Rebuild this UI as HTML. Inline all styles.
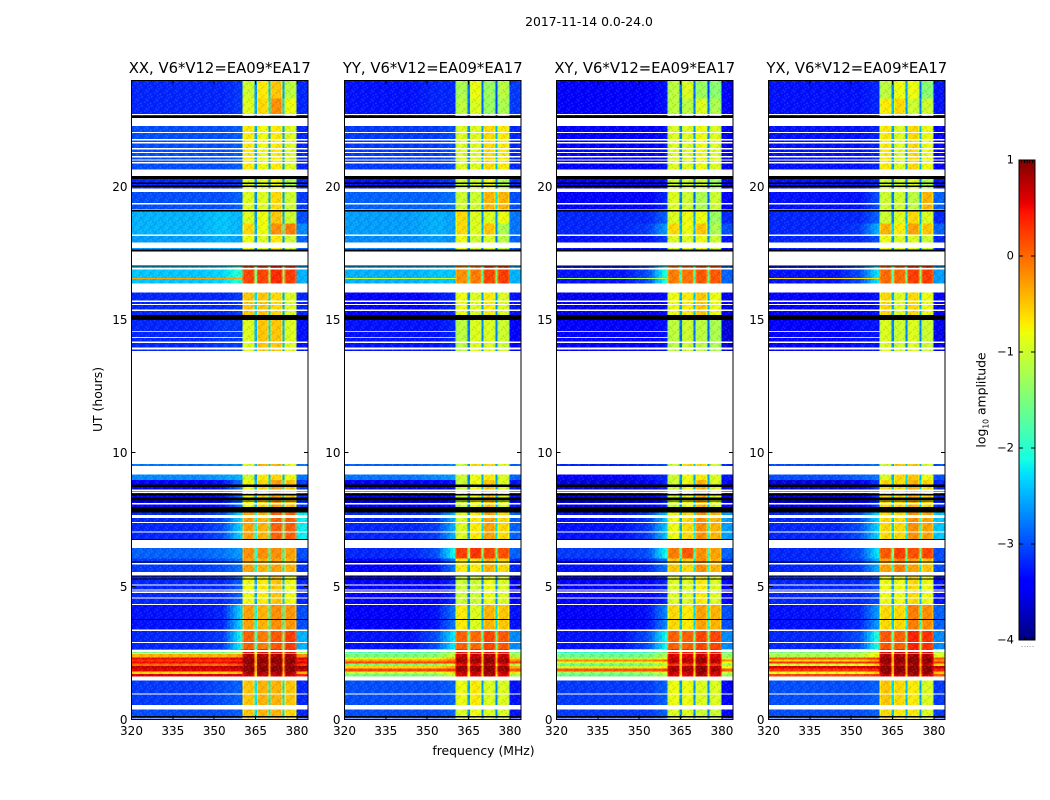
<!DOCTYPE html>
<html>
<head>
<meta charset="utf-8">
<title>2017-11-14 0.0-24.0</title>
<style>
html,body{margin:0;padding:0;background:#fff;}
svg{display:block;font-family:"DejaVu Sans","Liberation Sans",sans-serif;fill:#000;}
</style>
</head>
<body>
<svg id="figure" width="1050" height="800" viewBox="0 0 1050 800" xmlns="http://www.w3.org/2000/svg">
  <defs>
    <pattern id="speckle" width="9.8" height="9.1" patternUnits="userSpaceOnUse">
      <rect x="0" y="0" width="1.4" height="1.3" fill="#fff" opacity=".16"/>
      <rect x="4.2" y="0" width="1.4" height="1.3" fill="#000" opacity=".14"/>
      <rect x="7" y="1.3" width="1.4" height="1.3" fill="#fff" opacity=".13"/>
      <rect x="1.4" y="1.3" width="1.4" height="1.3" fill="#000" opacity=".16"/>
      <rect x="5.6" y="2.6" width="1.4" height="1.3" fill="#000" opacity=".12"/>
      <rect x="2.8" y="2.6" width="1.4" height="1.3" fill="#fff" opacity=".17"/>
      <rect x="8.4" y="3.9" width="1.4" height="1.3" fill="#000" opacity=".15"/>
      <rect x="0" y="3.9" width="1.4" height="1.3" fill="#fff" opacity=".12"/>
      <rect x="4.2" y="5.2" width="1.4" height="1.3" fill="#fff" opacity=".15"/>
      <rect x="7" y="5.2" width="1.4" height="1.3" fill="#000" opacity=".13"/>
      <rect x="1.4" y="6.5" width="1.4" height="1.3" fill="#fff" opacity=".12"/>
      <rect x="2.8" y="7.8" width="1.4" height="1.3" fill="#000" opacity=".16"/>
      <rect x="8.4" y="7.8" width="1.4" height="1.3" fill="#fff" opacity=".14"/>
      <rect x="5.6" y="6.5" width="1.4" height="1.3" fill="#000" opacity=".1"/>
    </pattern>
  </defs>
  <text x="589" y="26" font-size="12.4" text-anchor="middle">2017-11-14 0.0-24.0</text>
  <text transform="translate(102,399.5) rotate(-90)" font-size="12.4" text-anchor="middle">UT (hours)</text>
  <text x="483.5" y="755" font-size="12.4" text-anchor="middle">frequency (MHz)</text>
  <text transform="translate(985.5,400) rotate(-90)" font-size="12.4" text-anchor="middle">log<tspan font-size="7.6" dy="3">10</tspan><tspan dy="-3"> amplitude</tspan></text>
  <g id="panels"></g>
  <g id="colorbar"></g>
</svg>
<script>
// ---- chart data ----
const panelTitles = ["XX, V6*V12=EA09*EA17", "YY, V6*V12=EA09*EA17", "XY, V6*V12=EA09*EA17", "YX, V6*V12=EA09*EA17"];
const freqTicks = [320, 335, 350, 365, 380];
const hourTicks = [0, 5, 10, 15, 20];
const colorTicks = [1, 0, -1, -2, -3, -4];
// frequency anchors (MHz) for low, mid and ramp levels
const lowEdges = [345, 354, 360.3];
const subbandStart = [360.3, 365.5, 370.4, 375.5];
const subbandEnd = [364.6, 369.7, 374.7, 379.8];
const highEdges = [379.8, 384];
// time rows (UT hours)
const rowStart = [24.00,23.33,22.30,20.41,19.82,19.12,18.63,18.16,17.01,16.03,15.19,9.60,9.20,8.99,7.77,6.44,6.05,5.41,4.30,3.32,2.65,2.53,2.46,2.33,2.26,2.18,2.11,2.01,1.91,1.81,1.71,1.46,0.38];
const rowEnd   = [23.33,22.67,20.66,19.94,19.16,18.63,18.22,17.66,16.38,15.19,13.84,9.52,8.99,7.77,6.78,6.05,5.54,4.34,3.38,2.65,2.61,2.48,2.33,2.26,2.18,2.11,2.01,1.91,1.81,1.71,1.61,0.48,0.00];
// log10 amplitude per row: low, mid, ramp, sb1, sb2, sb3, sb4, high
const valuesXX = [
[-3.2,-3.2,-3.1,-1.0,-0.7,-0.5,-1.1,-3.2],[-3.2,-3.2,-3.1,-0.9,-0.6,-0.2,-0.8,-3.2],[-3.0,-3.0,-2.9,-0.7,-0.8,-0.7,-0.9,-3.2],[-3.2,-3.2,-3.1,-0.9,-0.9,-0.8,-1.2,-3.2],
[-3.0,-3.0,-2.9,-0.9,-0.9,-0.6,-1.0,-3.1],[-2.5,-2.4,-2.5,-0.9,-0.8,-0.5,-1.0,-3.0],[-2.5,-2.4,-2.5,-0.6,-0.8,-0.2,-0.1,-2.7],[-2.6,-2.5,-2.6,-0.8,-0.9,-0.7,-1.0,-2.9],
[-2.4,-2.3,-2.0,0.2,0.2,0.35,0.25,-2.5],[-3.2,-3.2,-3.1,-0.5,-0.5,-0.6,-0.9,-3.2],[-3.2,-3.1,-3.1,-0.9,-0.5,-0.5,-0.9,-3.3],[-2.8,-2.7,-2.6,-0.9,-0.4,-0.4,-0.8,-2.8],
[-2.7,-2.6,-2.5,-1.0,-0.7,-0.6,-0.8,-2.8],[-3.4,-3.3,-2.8,-0.8,-0.6,-0.3,-0.5,-3.1],[-3.2,-3.0,-2.3,-0.3,-0.4,0.05,0.05,-2.2],[-2.9,-2.8,-2.6,-0.2,-0.2,-0.2,-0.3,-3.0],
[-3.1,-3.0,-2.8,-0.3,-0.4,-0.3,-0.4,-3.1],[-3.2,-3.2,-2.9,-0.8,-0.7,-0.5,-0.8,-3.2],[-3.3,-3.2,-2.3,-0.3,-0.4,-0.2,-0.25,-3.0],[-3.2,-3.1,-2.1,0.05,-0.1,0.1,0.25,-2.5],
[0.1,0.1,-0.2,0.3,0.3,0.3,0.3,-0.5],[-1.5,-1.5,-1.2,0.5,0.5,0.5,0.5,-1.3],[-0.4,-0.4,-0.3,0.8,0.8,0.8,0.8,-0.2],[0.5,0.5,0.6,0.9,0.9,0.9,0.9,0.6],
[0.3,0.3,0.4,0.95,0.95,0.95,0.95,0.4],[0.5,0.5,0.6,0.95,0.95,0.95,0.95,0.6],[0.0,0.0,0.2,0.8,0.8,0.8,0.8,0.3],[0.7,0.7,0.8,0.95,0.95,0.95,0.95,0.9],
[0.55,0.55,0.6,0.95,0.95,0.95,0.95,0.7],[-0.6,-0.6,-0.4,0.8,0.8,0.8,0.8,-0.4],[0.6,0.6,0.6,0.7,0.7,0.7,0.7,0.4],[-3.1,-3.0,-2.9,-0.5,-0.4,-0.4,-0.5,-3.2],[-3.0,-3.0,-2.9,-0.5,-0.4,-0.4,-0.6,-3.2]];
const valuesYY = [
[-3.3,-3.2,-3.2,-1.2,-0.8,-1.3,-1.1,-3.1],[-3.3,-3.2,-3.2,-1.1,-0.9,-1.3,-1.2,-3.1],[-3.1,-3.1,-3.0,-0.9,-0.9,-0.6,-0.7,-3.2],[-3.3,-3.2,-3.1,-1.0,-1.0,-0.8,-1.2,-3.2],
[-2.9,-2.9,-2.8,-1.0,-1.0,-0.4,-0.4,-3.0],[-2.6,-2.5,-2.6,-0.6,-0.9,-0.9,-0.8,-2.8],[-2.6,-2.5,-2.6,-0.6,-0.9,-0.5,-1.2,-2.8],[-2.7,-2.6,-2.7,-0.8,-1.0,-0.9,-1.1,-2.9],
[-2.5,-2.4,-2.4,-0.2,-0.1,0.2,0.25,-2.5],[-3.4,-3.3,-3.2,-0.8,-0.9,-0.7,-0.9,-3.3],[-3.3,-3.3,-3.2,-1.1,-0.9,-0.9,-1.0,-3.4],[-2.9,-2.8,-2.7,-1.0,-0.6,-0.6,-0.9,-2.9],
[-2.8,-2.7,-2.6,-1.0,-0.8,-0.7,-0.9,-2.9],[-3.5,-3.4,-3.3,-1.0,-0.8,-0.5,-0.9,-3.3],[-3.2,-3.1,-2.5,-0.9,-0.7,-0.3,-0.6,-2.9],[-3.2,-3.0,-2.1,0.25,0.3,0.2,0.15,-2.9],
[-3.4,-3.3,-2.8,-0.7,-0.7,-0.4,-0.6,-3.2],[-3.4,-3.4,-3.2,-1.0,-1.0,-0.8,-0.9,-3.4],[-3.4,-3.3,-2.8,-0.7,-0.9,-0.4,-0.5,-3.3],[-3.3,-3.0,-2.2,0.05,0.0,0.2,0.1,-2.7],
[-2.0,-1.9,-1.5,0.3,0.3,0.3,0.3,-1.7],[-1.8,-1.7,-1.3,0.5,0.5,0.5,0.5,-1.5],[-1.5,-1.4,-1.0,0.7,0.7,0.8,0.7,-1.2],[-0.9,-0.8,-0.4,0.8,0.8,0.9,0.8,-0.6],
[-0.3,-0.3,0.0,0.9,0.9,0.95,0.9,-0.2],[0.2,0.2,0.3,0.8,0.8,0.95,0.8,0.2],[-1.5,-1.4,-1.0,0.5,0.5,0.7,0.5,-1.2],[-0.6,-0.6,-0.3,0.9,0.9,0.95,0.9,-0.4],
[0.2,0.2,0.3,0.9,0.9,0.95,0.9,0.1],[-1.0,-1.0,-0.6,0.7,0.7,0.9,0.7,-0.7],[-1.5,-1.4,-1.0,0.6,0.6,0.8,0.6,-1.2],[-3.0,-3.0,-2.9,-0.8,-0.7,-0.9,-0.9,-3.3],[-3.0,-3.0,-2.9,-0.9,-0.8,-0.9,-0.9,-3.3]];
const valuesXY = [
[-3.4,-3.4,-3.3,-1.1,-0.9,-1.3,-1.4,-3.4],[-3.4,-3.4,-3.3,-1.1,-1.1,-0.9,-1.2,-3.4],[-3.4,-3.4,-3.3,-0.9,-0.9,-0.8,-0.9,-3.5],[-3.4,-3.4,-3.3,-1.0,-1.0,-1.0,-1.3,-3.4],
[-3.4,-3.4,-3.2,-0.9,-1.0,-1.2,-1.0,-3.4],[-3.2,-3.2,-2.9,-0.9,-0.8,-0.8,-1.3,-3.2],[-3.2,-3.1,-2.6,-0.6,-0.8,-0.5,-1.2,-3.0],[-3.3,-3.3,-3.1,-0.9,-0.9,-0.8,-1.0,-3.3],
[-3.3,-3.0,-2.0,-0.1,-0.05,0.1,0.1,-2.9],[-3.5,-3.5,-3.3,-0.8,-0.7,-0.5,-0.8,-3.5],[-3.4,-3.4,-3.3,-1.1,-1.0,-1.1,-1.2,-3.6],[-3.2,-3.1,-3.0,-1.0,-0.6,-0.6,-1.0,-3.2],
[-3.4,-3.3,-3.2,-1.0,-0.8,-0.7,-0.9,-3.3],[-3.6,-3.5,-3.2,-1.0,-0.8,-0.4,-0.9,-3.4],[-3.3,-3.1,-2.4,-0.8,-0.6,-0.2,-0.4,-2.6],[-3.1,-3.0,-2.1,-0.1,0.1,-0.2,-0.3,-2.9],
[-3.3,-3.2,-2.8,-0.5,-0.6,-0.2,-0.4,-3.1],[-3.4,-3.4,-3.2,-0.9,-0.9,-0.7,-0.9,-3.4],[-3.4,-3.3,-2.7,-0.6,-0.7,-0.3,-0.4,-3.0],[-3.3,-3.0,-2.1,0.05,0.05,0.2,0.2,-2.7],
[-1.7,-1.6,-1.3,0.3,0.3,0.3,0.3,-1.5],[-2.0,-1.9,-1.5,0.45,0.45,0.5,0.45,-1.6],[-1.6,-1.5,-1.2,0.6,0.6,0.7,0.6,-1.3],[-1.2,-1.1,-0.8,0.7,0.7,0.85,0.7,-1.0],
[-0.2,-0.2,0.0,0.8,0.8,0.9,0.8,-0.2],[-1.0,-1.0,-0.7,0.7,0.7,0.85,0.7,-0.8],[-1.6,-1.5,-1.2,0.3,0.3,0.5,0.3,-1.3],[-1.0,-1.0,-0.7,0.8,0.8,0.95,0.8,-0.8],
[0.1,0.1,0.2,0.85,0.85,0.95,0.85,0.1],[-1.3,-1.2,-0.9,0.7,0.7,0.9,0.7,-1.0],[-1.6,-1.5,-1.2,0.6,0.6,0.8,0.6,-1.3],[-3.1,-3.1,-2.9,-0.8,-0.8,-0.9,-0.9,-3.4],[-3.1,-3.1,-2.9,-0.9,-0.9,-1.0,-1.0,-3.4]];
const valuesYX = [
[-3.3,-3.3,-3.2,-1.1,-0.8,-0.8,-1.4,-3.3],[-3.3,-3.3,-3.2,-0.7,-0.6,-1.0,-1.0,-3.3],[-3.3,-3.3,-3.2,-0.7,-0.9,-0.6,-0.8,-3.4],[-3.3,-3.3,-3.2,-1.0,-1.0,-0.9,-1.2,-3.3],
[-3.3,-3.3,-3.0,-1.0,-1.0,-1.1,-0.4,-2.9],[-3.2,-3.2,-2.9,-1.0,-0.9,-0.6,-0.9,-3.2],[-3.2,-3.1,-2.5,-0.4,-0.7,-0.3,-0.5,-2.9],[-3.2,-3.2,-3.0,-0.8,-0.9,-0.9,-1.0,-3.2],
[-3.3,-3.0,-2.2,0.0,0.0,0.25,0.25,-2.6],[-3.4,-3.4,-3.3,-0.6,-0.9,-0.6,-0.8,-3.4],[-3.4,-3.3,-3.3,-0.9,-1.0,-0.9,-1.0,-3.5],[-3.0,-2.9,-2.8,-1.0,-0.5,-0.5,-0.9,-3.0],
[-3.0,-2.9,-2.8,-0.9,-0.6,-0.5,-0.8,-3.0],[-3.6,-3.5,-3.1,-0.6,-0.6,-0.4,-0.6,-3.2],[-3.2,-3.0,-2.3,-0.6,-0.6,-0.2,-0.3,-2.4],[-3.2,-3.0,-2.2,0.1,0.25,0.15,0.2,-3.0],
[-3.2,-3.1,-2.5,-0.3,-0.1,-0.3,-0.5,-3.0],[-3.2,-3.2,-3.0,-0.8,-0.8,-0.6,-0.8,-3.3],[-3.3,-3.2,-2.6,-0.6,-0.6,-0.1,-0.2,-2.9],[-3.2,-3.0,-2.0,0.1,0.05,0.4,0.3,-2.7],
[-1.0,-0.9,-0.6,0.3,0.3,0.4,0.3,-1.0],[-1.5,-1.4,-1.0,0.6,0.6,0.6,0.6,-1.2],[-1.2,-1.1,-0.7,0.8,0.8,0.85,0.8,-0.9],[0.1,0.1,0.3,0.9,0.9,0.95,0.9,0.1],
[-0.6,-0.6,-0.2,0.95,0.95,0.95,0.95,-0.2],[0.3,0.3,0.4,0.9,0.9,0.95,0.9,0.3],[-1.0,-0.9,-0.5,0.7,0.7,0.8,0.7,-0.6],[0.6,0.6,0.7,0.95,0.95,0.95,0.95,0.7],
[0.3,0.3,0.4,0.95,0.95,0.95,0.95,0.4],[-0.9,-0.9,-0.5,0.9,0.9,0.9,0.9,-0.5],[0.2,0.2,0.3,0.7,0.7,0.8,0.7,0.1],[-3.0,-3.0,-2.9,-0.5,-0.6,-0.7,-0.9,-3.1],[-3.0,-3.0,-2.9,-0.6,-0.7,-0.7,-0.9,-3.1]];
const panelValues = [valuesXX, valuesYY, valuesXY, valuesYX];
// flagged scans (no data, UT hours)
const flaggedStart = [22.74,22.07,21.80,21.69,21.46,21.31,21.16,21.04,20.94,19.39,18.22,17.91,16.95,15.73,15.60,15.40,14.19,13.97,8.64,8.56,8.14,7.68,7.42,7.07,5.88,5.07,4.89,4.80,4.59,2.91,0.98,0.54,0.03];
const flaggedEnd   = [22.70,22.02,21.75,21.64,21.41,21.28,21.11,20.99,20.89,19.34,18.16,17.71,16.91,15.68,15.57,15.35,14.14,13.90,8.59,8.51,8.07,7.56,7.38,7.02,5.83,5.04,4.84,4.76,4.55,2.87,0.94,0.49,0.00];
// opaque black scans (UT hours)
const blackStart = [22.67,20.41,20.16,20.06,19.13,17.66,17.06,15.19,8.83,8.47,8.34,8.22,7.99,6.78,5.93,5.41,5.30,3.77,0.13];
const blackEnd   = [22.59,20.30,20.11,20.00,19.08,17.58,17.01,15.00,8.74,8.42,8.24,8.18,7.77,6.75,5.89,5.38,5.26,3.73,0.07];
// narrow-band interference streaks: hour and per-panel amplitude
const rfiHours = [16.57, 14.57, 14.35];
const rfiXX = [-0.3, -1.6, -0.8];
const rfiYY = [-1.0, -1.6, -0.5];
const rfiXY = [-1.2, -1.6, -1.0];
const rfiYX = [-0.6, -0.9, -1.2];
const panelRfi = [rfiXX, rfiYY, rfiXY, rfiYX];

// ---- layout ----
const NS = "http://www.w3.org/2000/svg";
const panelLeft = [131.5, 344.5, 556.5, 768.5];
const panelWidth = 176.5;
const plotTop = 80.5, plotBottom = 719.5;
const tickSpan = 23.96;
const cbLeft = 1019, cbRight = 1035, cbTop = 160, cbBottom = 640;

function fx(p, mhz) { return panelLeft[p] + (mhz - 320) / 64 * panelWidth; }
function fy(h) { return plotBottom - h / 24 * (plotBottom - plotTop); }
function fyTick(h) { return Math.round(plotBottom - h / tickSpan * (plotBottom - plotTop) - 0.5) + 0.5; }
function cy(v) { return cbBottom - (v + 4) / 5 * (cbBottom - cbTop); }

function lerp(t, xs, ys) {
  for (let i = 1; i < xs.length; i++) {
    if (t <= xs[i]) return ys[i - 1] + (ys[i] - ys[i - 1]) * (t - xs[i - 1]) / (xs[i] - xs[i - 1]);
  }
  return ys[ys.length - 1];
}
function jet(v) {
  const t = Math.max(0, Math.min(1, (v + 4) / 5));
  const r = lerp(t, [0, .35, .66, .89, 1], [0, 0, 1, 1, .5]);
  const g = lerp(t, [0, .125, .375, .64, .91, 1], [0, 0, 1, 1, 0, 0]);
  const b = lerp(t, [0, .11, .34, .65, 1], [.5, 1, 1, 0, 0]);
  return "rgb(" + Math.round(r * 255) + "," + Math.round(g * 255) + "," + Math.round(b * 255) + ")";
}
function rectEl(parent, x0, y0, x1, y1, fill) {
  const r = document.createElementNS(NS, "rect");
  r.setAttribute("x", x0);
  r.setAttribute("y", y0);
  r.setAttribute("width", Math.max(0, x1 - x0));
  r.setAttribute("height", Math.max(0, y1 - y0));
  r.setAttribute("fill", fill);
  r.setAttribute("shape-rendering", "crispEdges");
  parent.appendChild(r);
  return r;
}
function lineEl(parent, x1, y1, x2, y2) {
  const l = document.createElementNS(NS, "line");
  l.setAttribute("x1", x1);
  l.setAttribute("y1", y1);
  l.setAttribute("x2", x2);
  l.setAttribute("y2", y2);
  l.setAttribute("stroke", "#000");
  l.setAttribute("stroke-width", "1");
  l.setAttribute("shape-rendering", "crispEdges");
  parent.appendChild(l);
  return l;
}
function textEl(parent, x, y, size, anchor, str) {
  const t = document.createElementNS(NS, "text");
  t.setAttribute("x", x);
  t.setAttribute("y", y);
  t.setAttribute("font-size", size);
  t.setAttribute("text-anchor", anchor);
  t.textContent = str;
  parent.appendChild(t);
  return t;
}
function cell(parent, p, f0, f1, y0, y1, v) {
  const c = rectEl(parent, fx(p, f0), y0, fx(p, f1), y1, jet(v));
  
  
}
function gapLevel(a, b) {
  const avg = (a + b) / 2;
  return avg - 1.8 + Math.max(0, avg) * 0.6;
}

const panelsRoot = document.getElementById("panels");
panelTitles.forEach(function (title, p) {
  const g = document.createElementNS(NS, "g");
  
  
  panelsRoot.appendChild(g);
  const vals = panelValues[p];
  const left = panelLeft[p], right = left + panelWidth;

  rowStart.forEach(function (hs, r) {
    const y0 = fy(hs), y1 = fy(rowEnd[r]), row = vals[r];
    cell(g, p, 320, lowEdges[0], y0, y1, row[0]);
    for (let f = lowEdges[0]; f < lowEdges[2]; f += 1.2) {
      const f1 = Math.min(f + 1.2, lowEdges[2]);
      cell(g, p, f, f1, y0, y1, lerp(f1, lowEdges, [row[0], row[1], row[2]]));
    }
    for (let s = 0; s < 4; s++) {
      const a = subbandStart[s], b = subbandEnd[s], v = row[3 + s];
      cell(g, p, a, a + 0.45, y0, y1, v - 0.2);
      cell(g, p, a + 0.45, b - 0.45, y0, y1, v);
      cell(g, p, b - 0.45, b, y0, y1, v - 0.2);
      if (s < 3) cell(g, p, b, subbandStart[s + 1], y0, y1, gapLevel(v, row[4 + s]));
    }
    cell(g, p, highEdges[0], highEdges[1], y0, y1, row[7]);
    const tex = rectEl(g, left, y0, right, y1, "url(#speckle)");
    
    
  });

  rfiHours.forEach(function (h, i) {
    const streak = rectEl(g, fx(p, 320), fy(h) - 0.5, fx(p, 360.3), fy(h) + 0.5, jet(panelRfi[p][i]));
    
    
  });
  flaggedStart.forEach(function (h, i) {
    const gap = rectEl(g, left, fy(h), right, fy(flaggedEnd[i]), "#fff");
    
    
  });
  blackStart.forEach(function (h, i) {
    const bar = rectEl(g, left, fy(h), right, fy(blackEnd[i]), "#000");
    
    
  });

  const frame = rectEl(g, left, plotTop, right, plotBottom, "none");
  frame.setAttribute("stroke", "#000");
  frame.setAttribute("stroke-width", "1");
  
  

  freqTicks.forEach(function (f) {
    const x = fx(p, f);
    const t1 = lineEl(g, x, plotBottom, x, plotBottom - 4);
    
    
    const t2 = lineEl(g, x, plotTop, x, plotTop + 4);
    
    
    const lab = textEl(g, x, 735, 12, "middle", String(f));
    
    
  });
  hourTicks.forEach(function (h) {
    const y = fyTick(h);
    const t1 = lineEl(g, left, y, left + 4, y);
    
    
    const t2 = lineEl(g, right, y, right - 4, y);
    
    
    const lab = textEl(g, left - 4, y + 4.5, 12, "end", String(h));
    
    
  });
  const ttl = textEl(g, left + panelWidth / 2, 73, 14.8, "middle", title);
  
  
});

// colorbar
const cb = document.getElementById("colorbar");
for (let i = 0; i < 240; i++) {
  const v = -4 + (i + 0.5) / 240 * 5;
  const swatch = rectEl(cb, cbLeft, cy(v) - 1.2, cbRight, cy(v) + 1.2, jet(v));
  
  
}
const cbFrame = rectEl(cb, cbLeft, cbTop, cbRight, cbBottom, "none");
cbFrame.setAttribute("stroke", "#000");
cbFrame.setAttribute("stroke-width", "1");


colorTicks.forEach(function (v) {
  const y = cy(v);
  const t1 = lineEl(cb, cbLeft, y, cbLeft + 4, y);
  
  
  const t2 = lineEl(cb, cbRight, y, cbRight - 4, y);
  
  
  const lab = textEl(cb, 1014, y + 3.5, 11.5, "end", v < 0 ? "\u2212" + (-v) : String(v));
  
  
});
for (let i = 1; i <= 5; i++) {
  const x = cbLeft + i * 16 / 6;
  const top = lineEl(cb, x, cbTop, x, cbTop + 3);
  
  
  const bot = lineEl(cb, x, cbBottom, x, cbBottom - 3);
  
  
  const dot = rectEl(cb, x, 646, x + 1, 647, "#999");
  
  
}
</script>
</body>
</html>
